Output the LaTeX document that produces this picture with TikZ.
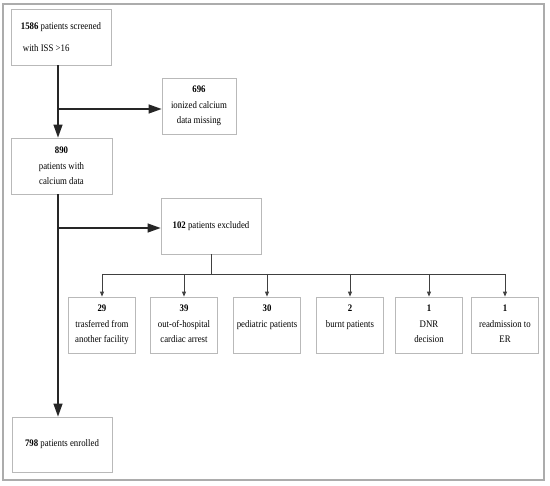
\documentclass[tikz,border=0pt]{standalone}
\usepackage{fontspec}
\setmainfont{Liberation Serif}[FakeStretch=0.88]
\usepackage{xcolor}
\usepackage{tikz}
\usetikzlibrary{arrows.meta,positioning,calc}

\newcommand{\cbox}[2]{\parbox[c][56pt][t]{67pt}{\centering\rule{0pt}{15pt}\textbf{#1}\\#2}}

\begin{document}
\begin{tikzpicture}[x=1pt,y=-1pt,
    font=\fontsize{10}{15.5}\selectfont,
    flowbox/.style={draw=gray!55, line width=0.8pt, inner sep=0pt, minimum height=56pt, align=center},
    childbox/.style={draw=gray!55, line width=0.8pt, inner sep=0pt},
    mainline/.style={line width=1.3pt, black!85},
    bigtip/.style={-{Triangle[length=13pt,width=9pt]}},
    fanline/.style={line width=0.9pt, black!75},
    smalltip/.style={-{Triangle[length=5pt,width=4pt]}}]
        \useasboundingbox (0,0) rectangle (550,486);

        % Outer frame
        \draw[gray!65, line width=1.5pt] (3,4) rectangle (544,480);

        % Main boxes
        \node[flowbox, minimum width=100pt, align=left] (screened) at (61,37) {\textbf{1586} patients screened\\[6pt]\hspace{2pt}with ISS >16};
        \node[flowbox, minimum width=74pt] (missing) at (199,106) {\textbf{696}\\ionized calcium\\data missing};
        \node[flowbox, minimum width=101pt] (calcium) at (61.5,166) {\textbf{890}\\patients with\\calcium data};
        \node[flowbox, minimum width=100pt] (excluded) at (211,226) {\textbf{102} patients excluded};
        \node[flowbox, minimum width=100pt, minimum height=55pt] (enrolled) at (62,444.5) {\textbf{798} patients enrolled};

        % Excluded reasons
        \node[childbox] (c1) at (102,325) {\cbox{29}{trasferred from\\another facility}};
        \node[childbox] (c2) at (184,325) {\cbox{39}{out-of-hospital\\cardiac arrest}};
        \node[childbox] (c3) at (267,325) {\cbox{30}{pediatric patients}};
        \node[childbox] (c4) at (350,325) {\cbox{2}{burnt patients}};
        \node[childbox] (c5) at (429,325) {\cbox{1}{DNR\\decision}};
        \node[childbox] (c6) at (505,325) {\cbox{1}{readmission to\\ER}};

        % Main trunk
        \coordinate (split1) at (58,109);
        \coordinate (split2) at (58,228);
        \draw[mainline, bigtip] (screened.south -| split1) -- (calcium.north -| split1);
        \draw[mainline, bigtip] (split1) -- (split1 -| missing.west);
        \draw[mainline] (calcium.south -| split2) -- (split2);
        \draw[mainline, bigtip] (split2) -- (split2 -| excluded.west);
        \draw[mainline, bigtip] (split2) -- (enrolled.north -| split2);

        % Fan out to reasons
        \coordinate (fan) at (excluded.south |- 0,274);
        \draw[fanline] (excluded.south) -- (fan);
        \draw[fanline] (fan -| c1) -- (fan -| c6);
        \foreach \c in {c1,c2,c3,c4,c5,c6}
            \draw[fanline, smalltip] (fan -| \c) -- (\c.north);
      \end{tikzpicture}
\end{document}
